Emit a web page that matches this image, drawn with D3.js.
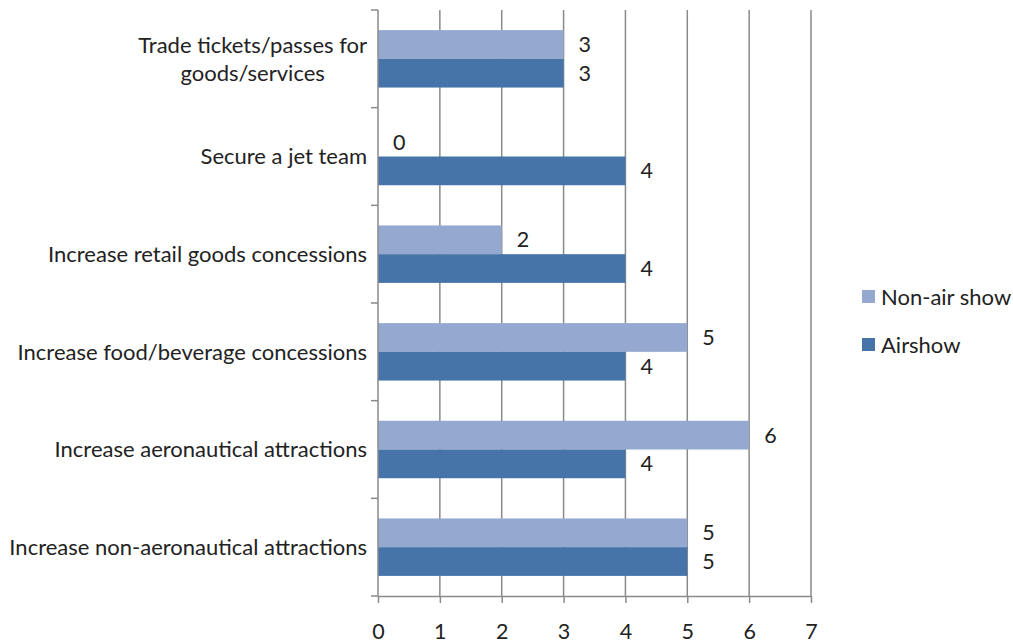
<!DOCTYPE html>
<html><head><meta charset="utf-8">
<script src="https://cdn.jsdelivr.net/npm/d3@7"></script>
<style>body{margin:0;background:#fff}svg{display:block}text{font-family:Lato,"Open Sans",sans-serif;fill:#222}</style>
</head><body><svg id="c" width="1013" height="643"></svg>
<script>
const categories = ["Trade tickets/passes for goods/services","Secure a jet team ","Increase retail goods concessions","Increase food/beverage concessions","Increase aeronautical attractions","Increase non-aeronautical attractions"];
const categoryLines = [["Trade tickets/passes for","goods/services"],["Secure a jet team "],["Increase retail goods concessions"],["Increase food/beverage concessions"],["Increase aeronautical attractions"],["Increase non-aeronautical attractions"]];
const seriesNames = ["Non-air show","Airshow"];
const nonAirShow = [3,0,2,5,6,5];
const airshow = [3,4,4,4,4,5];
const xTicks = [0,1,2,3,4,5,6,7];
const colors = ["#95a9d0","#4674a9"];

const FS=22;
const svg = d3.select("#c");
const L=378,R=811,T=10,B=596;
const x = d3.scaleLinear().domain([0,7]).range([L,R]);
const y = d3.scaleBand().domain(categories).range([T,B]);
const inner = d3.scaleBand().domain([0,1]).range([0,y.bandwidth()]).paddingInner(0).paddingOuter(0.7);
const gridC="#8a8a8a";

svg.append("g").selectAll("line").data(xTicks.slice(1)).join("line")
  .attr("x1",d=>x(d)).attr("x2",d=>x(d)).attr("y1",T).attr("y2",B)
  .attr("stroke",gridC).attr("stroke-width",1.5);

const series=[nonAirShow,airshow];
series.forEach((vals,si)=>{
  const g=svg.append("g");
  g.selectAll("rect").data(vals).join("rect")
    .attr("x",x(0)).attr("y",(d,i)=>y(categories[i])+inner(si))
    .attr("width",d=>x(d)-x(0)).attr("height",inner.bandwidth())
    .attr("fill",colors[si]);
  g.selectAll("text").data(vals).join("text")
    .attr("x",d=>x(d)+15).attr("y",(d,i)=>y(categories[i])+inner(si)+inner.bandwidth()/2)
    .attr("dy","0.35em").attr("font-size",FS-0.5).text(d=>d);
});

const xa = svg.append("g").attr("transform",`translate(0,${B})`)
  .call(d3.axisBottom(x).tickValues(xTicks).tickFormat(d3.format("d")).tickSize(7).tickPadding(21).tickSizeOuter(0));
xa.select(".domain").attr("stroke",gridC).attr("stroke-width",1.5);
xa.selectAll(".tick line").attr("stroke",gridC).attr("stroke-width",1.5);
xa.selectAll("text").attr("font-size",FS-0.5).attr("fill","#222").attr("font-family","Lato,'Open Sans',sans-serif");

const ya=svg.append("g");
ya.append("line").attr("x1",L).attr("x2",L).attr("y1",T).attr("y2",B).attr("stroke",gridC).attr("stroke-width",1.5);
const bounds = categories.map(c=>y(c)).concat([B]);
ya.selectAll("line.t").data(bounds).join("line").attr("class","t")
  .attr("x1",L-7).attr("x2",L).attr("y1",d=>d).attr("y2",d=>d).attr("stroke",gridC).attr("stroke-width",1.5);

categories.forEach((c,i)=>{
  const lines=categoryLines[i];
  const cy=y(c)+y.bandwidth()/2;
  const lh=28;
  const g=svg.append("g");
  const ts=lines.map((ln,j)=>g.append("text").attr("font-size",FS).attr("y",cy+(j-(lines.length-1)/2)*lh).attr("dy","0.35em").text(ln));
  const widths=ts.map(t=>t.node().getComputedTextLength());
  const mw=d3.max(widths);
  const cx=367-mw/2;
  ts.forEach(t=>t.attr("x",cx).attr("text-anchor","middle"));
});

const lg=svg.append("g");
seriesNames.forEach((n,i)=>{
  const yy=297+i*48;
  lg.append("rect").attr("x",862).attr("y",yy-7).attr("width",13).attr("height",13).attr("fill",colors[i]);
  lg.append("text").attr("x",881).attr("y",yy).attr("dy","0.35em").attr("font-size",FS).text(n);
});
</script></body></html>
